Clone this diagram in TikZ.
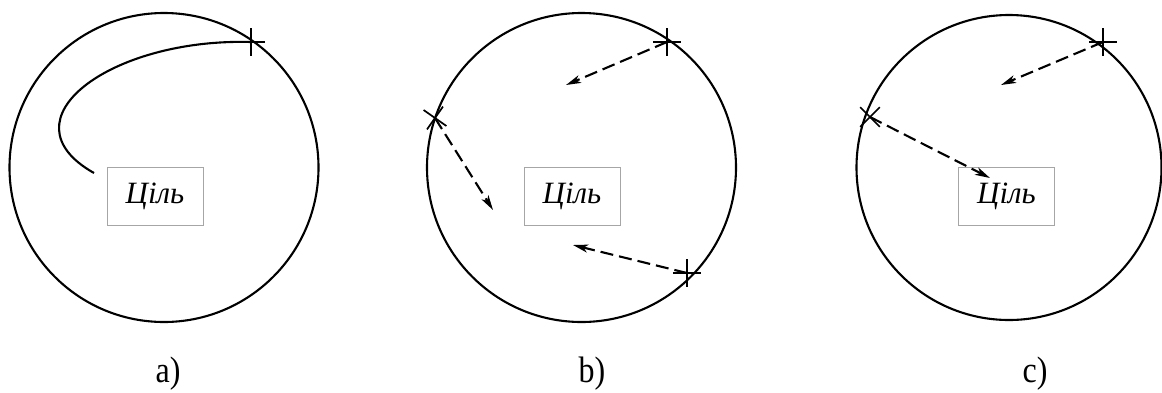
\documentclass[tikz,border=0pt]{standalone}
\usepackage{fontspec}
\setmainfont{Liberation Serif}
\usetikzlibrary{arrows.meta,shapes.misc}

\begin{document}
\begin{tikzpicture}[x=1pt, y=-1pt, >={Stealth[length=15pt,width=8pt,inset=4pt]},
  ring/.style={draw, line width=2.1pt},
  goal/.style={draw=black!35, line width=0.9pt, minimum width=96pt, minimum height=58pt,
    font=\fontsize{31}{36}\selectfont\itshape},
  hit/.style={cross out, draw, line width=1.7pt, inner sep=0pt, minimum size=18pt},
  jump/.style={->, line width=2.1pt, dash pattern=on 13pt off 6pt},
  tag/.style={font=\fontsize{32}{36}\selectfont, yscale=1.15}]
  \useasboundingbox (0,0) rectangle (1162,392);
  % a) smooth path towards the goal
  \draw[ring] (164,167.5) circle (154.5);
  \node[goal] (ga) at (155,196) {Ціль};
  \node[hit,rotate=45] (a1) at (251,42) {};
  \coordinate (aend) at (94,173);
  \draw[line width=2.1pt] (a1.center) .. controls (110,38) and (0,120) .. (aend);
  \node[tag] (la) at (168,374) {a)};
  % b) three independent jumps
  \draw[ring] (581.5,167.5) circle (154.5);
  \node[goal] (gb) at (572,196) {Ціль};
  \node[hit,rotate=45] (b1) at (667,42) {};
  \node[hit,rotate=10] (b2) at (435,118) {};
  \node[hit,rotate=45] (b3) at (687,273) {};
  \coordinate (b1t) at (566,85);
  \coordinate (b2t) at (493,210);
  \coordinate (b3t) at (573,245);
  \draw[jump] (b1.center) -- (b1t);
  \draw[jump] (b2.center) -- (b2t);
  \draw[jump] (b3.center) -- (b3t);
  \node[tag] (lb) at (592,374) {b)};
  % c) one jump reaches the goal
  \draw[ring] (1009,167.5) circle (152.5);
  \node[goal] (gc) at (1006.5,196) {Ціль};
  \node[hit,rotate=45] (c1) at (1103,42) {};
  \node[hit] (c2) at (870,117) {};
  \coordinate (c1t) at (1001,85);
  \coordinate (c2t) at (990,178);
  \draw[jump] (c1.center) -- (c1t);
  \draw[jump] (c2.center) -- (c2t);
  \node[tag] (lc) at (1035,374) {c)};
\end{tikzpicture}
\end{document}
